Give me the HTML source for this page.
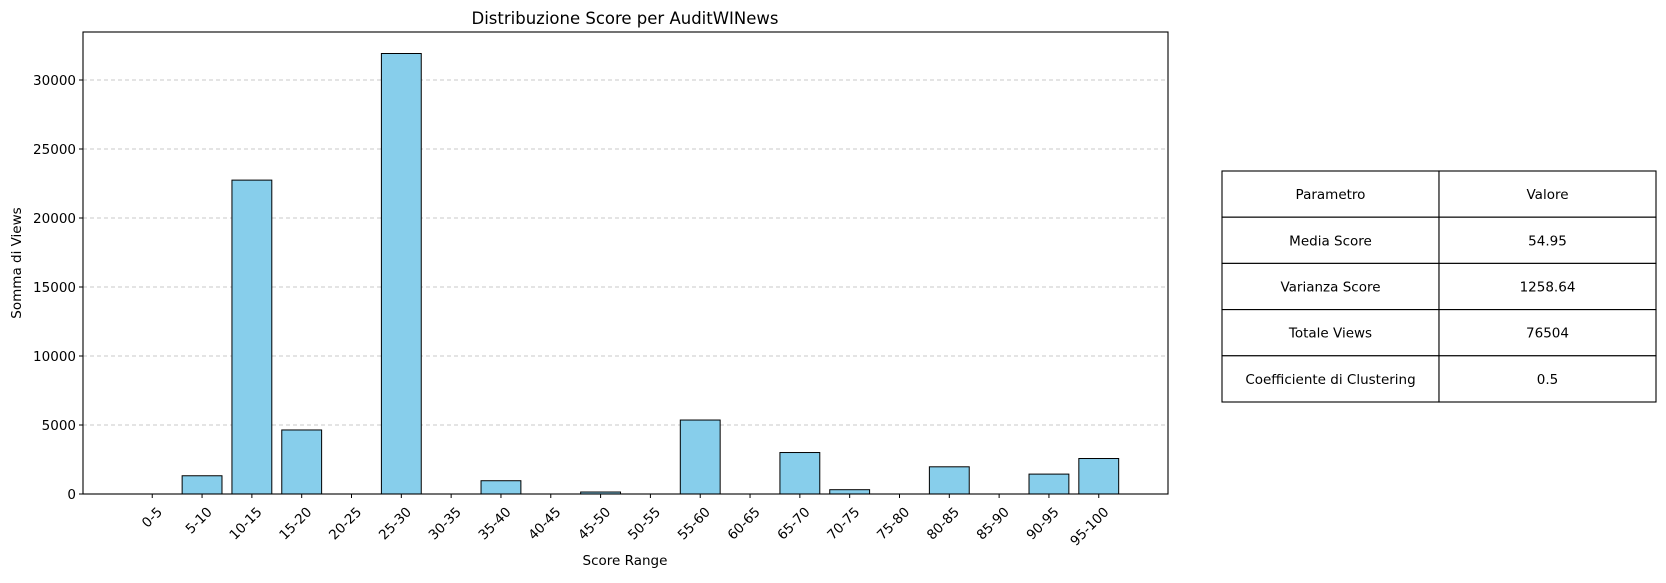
<!DOCTYPE html>
<html><head><meta charset="utf-8"><style>
body{margin:0;background:#fff;}
svg text{font-family:"DejaVu Sans","Liberation Sans",sans-serif;fill:#000;}
</style></head><body>
<svg id="chart" width="1666" height="578" xmlns="http://www.w3.org/2000/svg">
<text x="625" y="24" font-size="16.5" text-anchor="middle">Distribuzione Score per AuditWINews</text>
<g id="grid"></g>
<g id="bars"></g>
<rect x="83" y="32" width="1085" height="462" fill="none" stroke="#000" stroke-width="1.1"/>
<g id="yticks"></g>
<g id="xticks"></g>
<text transform="translate(21,263) rotate(-90)" font-size="13.5" text-anchor="middle">Somma di Views</text>
<text x="625" y="565" font-size="13.5" text-anchor="middle">Score Range</text>
<g id="table"></g>
</svg>
<script>
const categories=["0-5","5-10","10-15","15-20","20-25","25-30","30-35","35-40","40-45","45-50","50-55","55-60","60-65","65-70","70-75","75-80","80-85","85-90","90-95","95-100"];
const views=[0,1322,22745,4640,0,31920,0,962,0,144,0,5360,0,3005,312,0,1971,0,1442,2572];
const yTicks=[0,5000,10000,15000,20000,25000,30000];
const tableRows=[["Parametro","Valore"],["Media Score","54.95"],["Varianza Score","1258.64"],["Totale Views","76504"],["Coefficiente di Clustering","0.5"]];
const NS="http://www.w3.org/2000/svg";
const L=83,R=1168,T=32,B=494,yMax=33478;
const xMin=-1.39,xMax=20.39;
const xs=v=>L+(v-xMin)/(xMax-xMin)*(R-L);
const ys=v=>B-v/yMax*(B-T);
function mk(tag,attrs,parent){const e=document.createElementNS(NS,tag);for(const k in attrs)e.setAttribute(k,attrs[k]);document.getElementById(parent).appendChild(e);return e;}
yTicks.forEach(t=>{
  const y=ys(t);
  if(t>0){const g=mk('line',{x1:L,x2:R,y1:y,y2:y,stroke:'#c8c8c8','stroke-dasharray':'4,3','stroke-width':1},'grid');
  
  }
  const tk=mk('line',{x1:L-4,x2:L,y1:y,y2:y,stroke:'#000'},'yticks');
  
  
  const tx=mk('text',{x:L-7,y:y+5,'font-size':13.5,'text-anchor':'end'},'yticks');
  tx.textContent=t;
  
  
});
const bw=(xs(1)-xs(0))*0.8;
categories.forEach((c,i)=>{
  const cx=xs(i),y=ys(views[i]);
  const b=mk('rect',{x:cx-bw/2,y:y,width:bw,height:B-y,fill:'#87ceeb',stroke:'#000','stroke-width':1},'bars');
  
  
  const tk=mk('line',{x1:cx,x2:cx,y1:B,y2:B+4,stroke:'#000'},'xticks');
  
  
  const tx=mk('text',{transform:`translate(${cx+4},${B+12}) rotate(-45)`,'font-size':13.5,'text-anchor':'end','dominant-baseline':'hanging'},'xticks');
  tx.textContent=c;
  
  
});
const tx0=1222,tx1=1439,tx2=1656,ty0=171,rh=46.2;
tableRows.forEach((r,i)=>{
  const y=ty0+i*rh;
  [[tx0,tx1],[tx1,tx2]].forEach((c,j)=>{
    const cell=mk('rect',{x:c[0],y:y,width:c[1]-c[0],height:rh,fill:'#fff',stroke:'#000','stroke-width':1.1},'table');
    
    
    const t=mk('text',{x:(c[0]+c[1])/2,y:y+rh/2+5,'font-size':13.5,'text-anchor':'middle'},'table');
    t.textContent=r[j];
    
    
  });
});
</script>
</body></html>
